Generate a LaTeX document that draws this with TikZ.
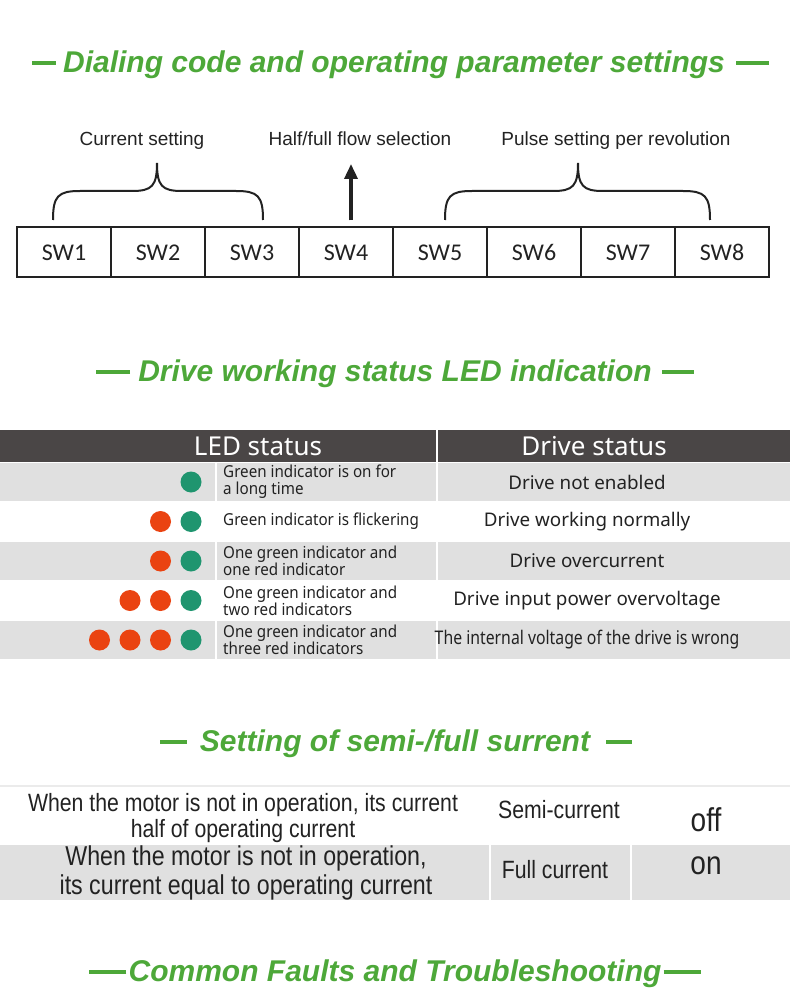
\documentclass[tikz,border=0pt]{standalone}
\usepackage{fontspec}
\setmainfont{Liberation Sans}
\newfontfamily\swfont{Carlito}
\newfontfamily\ledfont[FakeStretch=0.92]{Noto Sans}
\newfontfamily\drvfont{Noto Sans}
\newfontfamily\drvcond[FakeStretch=0.84]{Noto Sans}
\newfontfamily\curfont[FakeStretch=0.85]{Liberation Sans}
\usetikzlibrary{arrows.meta}
\definecolor{titlegreen}{HTML}{4DA839}
\definecolor{headgray}{HTML}{4A4646}
\definecolor{rowgray}{HTML}{E0E0E0}
\definecolor{ledgreen}{HTML}{1F956F}
\definecolor{ledred}{HTML}{EA4311}
\definecolor{inkgray}{HTML}{222222}
\tikzset{
  sectitle/.style={text=titlegreen, inner sep=0pt, font=\fontsize{30}{33}\selectfont\bfseries\itshape},
  titlebar/.style={titlegreen, line width=3.8pt},
  swbox/.style={draw=inkgray, line width=1.2pt, minimum width=94pt, minimum height=50pt, text height=16pt, text depth=0pt, text=inkgray, font=\swfont\fontsize{24}{26}\selectfont},
  swlabel/.style={text=inkgray, inner sep=0pt, text height=14pt, text depth=4pt, font=\fontsize{19}{22}\selectfont},
  swbrace/.style={inkgray, line width=2pt},
  flowarrow/.style={inkgray, line width=3.5pt, -{Triangle[length=15pt,width=13pt]}},
  headcell/.style={fill=headgray, anchor=west, inner sep=0pt, minimum height=32pt},
  headtext/.style={text=white, inner sep=0pt, font=\drvfont\fontsize{26}{28}\selectfont},
  ledcell/.style={anchor=west, inner sep=0pt, minimum height=38pt},
  led/.style={circle, inner sep=0pt, minimum size=21pt},
  ledtext/.style={anchor=west, align=left, inner sep=0pt, text=inkgray, font=\ledfont\fontsize{16.5}{17}\selectfont},
  drvtext/.style={inner sep=0pt, text=inkgray, font=\drvfont\fontsize{18.8}{21}\selectfont},
  curcell/.style={fill=rowgray, anchor=west, inner sep=0pt, minimum height=55pt},
  curtext/.style={align=center, inner sep=0pt, text=inkgray, font=\curfont\fontsize{25}{26}\selectfont},
  onoff/.style={inner sep=0pt, text=inkgray, font=\curfont\fontsize{33}{34}\selectfont}
}
\begin{document}
\begin{tikzpicture}[x=1pt,y=-1pt]
\useasboundingbox (0,0) rectangle (790,1000);

% dialing code
\node[sectitle] (t1) at (394,65) {Dialing code and operating parameter settings};
\draw[titlebar] ([xshift=-7pt,yshift=2pt]t1.west) -- ++(-24,0);
\draw[titlebar] ([xshift=11pt,yshift=2pt]t1.east) -- ++(33,0);

\foreach \i in {1,...,8}
  \node[swbox] (sw\i) at ({17+94*\i-47},252) {SW\i};

\node[swlabel] (cur) at (142,141) {Current setting};
\node[swlabel] (half) at (360,141) {Half/full flow selection};
\node[swlabel] (pulse) at (616,141) {Pulse setting per revolution};

\draw[swbrace] (53,220) .. controls (53,196) and (58,191) .. (80,191) -- (132,191)
  .. controls (152,191) and (157,186) .. (157,163) .. controls (157,186) and (162,191) .. (182,191)
  -- (236,191) .. controls (258,191) and (263,196) .. (263,220);
\draw[swbrace] (445,220) .. controls (445,196) and (450,191) .. (472,191) -- (553,191)
  .. controls (573,191) and (578,186) .. (578,163) .. controls (578,186) and (583,191) .. (603,191)
  -- (683,191) .. controls (705,191) and (710,196) .. (710,220);
\coordinate (tip) at (351,164);
\draw[flowarrow] ([xshift=5pt,yshift=6pt]sw4.north) -- (tip);

% LED table
\node[sectitle] (t2) at (395,374) {Drive working status LED indication};
\draw[titlebar] ([xshift=-8pt,yshift=2pt]t2.west) -- ++(-34,0);
\draw[titlebar] ([xshift=10pt,yshift=2pt]t2.east) -- ++(32,0);

\node[headcell, minimum width=436pt] (h1) at (0,446) {};
\node[headcell, minimum width=352pt] (h2) at (438,446) {};
\node[headtext] (hled) at (258,446) {LED status};
\node[headtext] (hdrv) at (594,446) {Drive status};

\foreach \r/\yc/\bg/\n/\desc/\state in {
  1/482/rowgray/1/{Green indicator is on for\\a long time}/{Drive not enabled},
  2/521.5/white/2/{Green indicator is flickering}/{Drive working normally},
  3/561/rowgray/2/{One green indicator and\\one red indicator}/{Drive overcurrent},
  4/600.5/white/3/{One green indicator and\\two red indicators}/{Drive input power overvoltage},
  5/640/rowgray/4/{One green indicator and\\three red indicators}/{\drvcond The internal voltage of the drive is wrong}}{
  \node[ledcell, fill=\bg, minimum width=215pt] (c\r a) at (0,\yc) {};
  \node[ledcell, fill=\bg, minimum width=219pt] (c\r b) at (217,\yc) {};
  \node[ledcell, fill=\bg, minimum width=352pt] (c\r c) at (438,\yc) {};
  \node[ledtext] (d\r) at (223,\yc) {\desc};
  \node[drvtext] (s\r) at (587,\yc) {\state};
  \foreach \k in {1,...,\n}{
    \ifnum\k=1 \def\dc{ledgreen}\else\def\dc{ledred}\fi
    \node[led, fill=\dc] (l\r\k) at ({191-30.5*(\k-1)},\yc) {};
  }
}

% semi / full current
\node[sectitle] (t3) at (395,744) {Setting of semi-/full surrent};
\draw[titlebar] ([xshift=-13pt,yshift=2pt]t3.west) -- ++(-27,0);
\draw[titlebar] ([xshift=16pt,yshift=2pt]t3.east) -- ++(26,0);

\draw[black!8, line width=1.5pt] (0,786) -- (790,786);
\node[curcell, minimum width=489pt] (r2a) at (0,872.5) {};
\node[curcell, minimum width=139pt] (r2b) at (491,872.5) {};
\node[curcell, minimum width=158pt] (r2c) at (632,872.5) {};

\node[curtext] (w1) at (243,818) {When the motor is not in operation, its current\\half of operating current};
\node[curtext] (m1) at (559,810) {Semi-current};
\node[onoff] (o1) at (706,820) {off};
\node[curtext, font=\curfont\fontsize{27.3}{29}\selectfont] (w2) at (246,872.5) {When the motor is not in operation,\\its current equal to operating current};
\node[curtext] (m2) at (555,870) {Full current};
\node[onoff] (o2) at (706,866) {on};

% faults
\node[sectitle] (t4) at (395,974) {Common Faults and Troubleshooting};
\draw[titlebar] ([xshift=-2pt,yshift=2pt]t4.west) -- ++(-37,0);
\draw[titlebar] ([xshift=2pt,yshift=2pt]t4.east) -- ++(37,0);
\end{tikzpicture}
\end{document}
